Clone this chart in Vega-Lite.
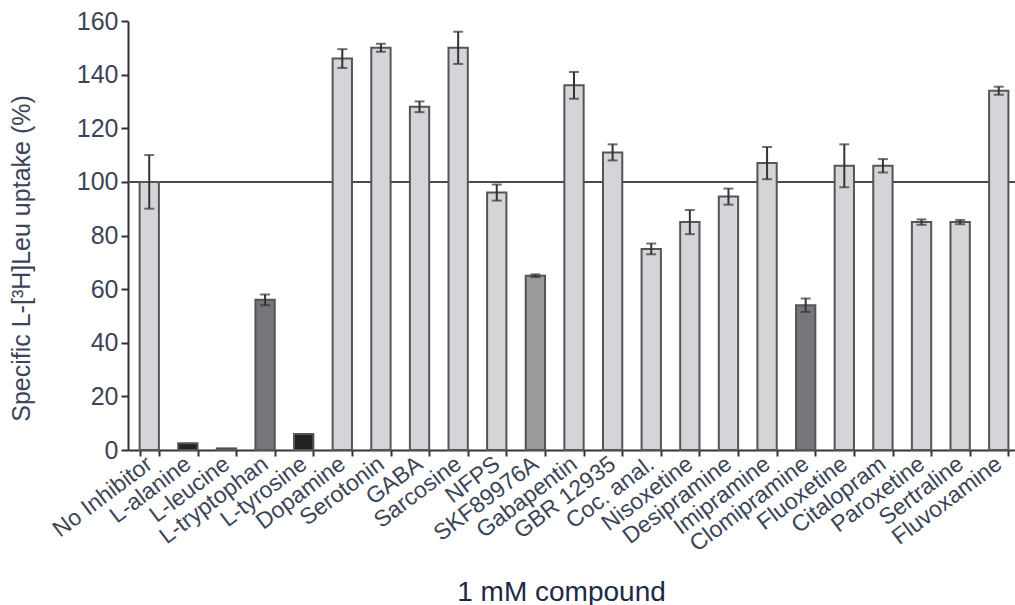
{
  "$schema": "https://vega.github.io/schema/vega-lite/v6.json",
  "autosize": "none",
  "width": 892,
  "height": 429,
  "padding": {"left": 128, "top": 21, "right": 0, "bottom": 155},
  "background": "white",
  "config": {"view": {"stroke": null}, "font": "Liberation Sans"},
  "data": {"values": [
    {"c": "No Inhibitor", "v": 100, "e": 10, "g": "light"},
    {"c": "L-alanine", "v": 2.5, "e": 0, "g": "black"},
    {"c": "L-leucine", "v": 0.6, "e": 0, "g": "black"},
    {"c": "L-tryptophan", "v": 56, "e": 2, "g": "dark"},
    {"c": "L-tyrosine", "v": 6, "e": 0, "g": "black"},
    {"c": "Dopamine", "v": 146, "e": 3.5, "g": "light"},
    {"c": "Serotonin", "v": 150, "e": 1.5, "g": "light"},
    {"c": "GABA", "v": 128, "e": 2, "g": "light"},
    {"c": "Sarcosine", "v": 150, "e": 6, "g": "light"},
    {"c": "NFPS", "v": 96, "e": 3, "g": "light"},
    {"c": "SKF89976A", "v": 65, "e": 0.5, "g": "mid"},
    {"c": "Gabapentin", "v": 136, "e": 5, "g": "light"},
    {"c": "GBR 12935", "v": 111, "e": 3, "g": "light"},
    {"c": "Coc. anal.", "v": 75, "e": 2, "g": "light"},
    {"c": "Nisoxetine", "v": 85, "e": 4.5, "g": "light"},
    {"c": "Desipramine", "v": 94.5, "e": 3, "g": "light"},
    {"c": "Imipramine", "v": 107, "e": 6, "g": "light"},
    {"c": "Clomipramine", "v": 54, "e": 2.5, "g": "dark"},
    {"c": "Fluoxetine", "v": 106, "e": 8, "g": "light"},
    {"c": "Citalopram", "v": 106, "e": 2.5, "g": "light"},
    {"c": "Paroxetine", "v": 85, "e": 1, "g": "light"},
    {"c": "Sertraline", "v": 85, "e": 0.8, "g": "light"},
    {"c": "Fluvoxamine", "v": 134, "e": 1.5, "g": "light"}
  ]},
  "encoding": {
    "x": {
      "field": "c", "type": "nominal", "sort": null,
      "scale": {"paddingInner": 0.5, "paddingOuter": 0.3},
      "axis": {
        "title": "1 mM compound", "titleFontSize": 28, "titleFontWeight": "normal",
        "titleColor": "#1e2a44", "titleX": 433, "titleY": 150, "titleBaseline": "alphabetic",
        "labelAngle": -37, "labelFontSize": 23, "labelColor": "#3b4458",
        "labelPadding": 5, "labelBaseline": "middle", "labelOverlap": false, "labelBound": false,
        "tickBand": "extent", "tickColor": "#333", "tickSize": 6, "tickWidth": 2,
        "domainColor": "#333", "domainWidth": 2, "grid": false
      }
    }
  },
  "layer": [
    {
      "mark": {"type": "rule", "color": "#4a4a4a", "strokeWidth": 2},
      "encoding": {"y": {"datum": 100, "type": "quantitative"}, "x": null}
    },
    {
      "mark": {"type": "bar", "stroke": "#555", "strokeWidth": 2},
      "encoding": {
        "y": {
          "field": "v", "type": "quantitative",
          "scale": {"domain": [0, 160]},
          "axis": {
            "title": "Specific L-[³H]Leu uptake (%)", "titleFontSize": 25,
            "titleFontWeight": "normal", "titleColor": "#3b4458", "titlePadding": 42,
            "titleY": 237,
            "values": [0, 20, 40, 60, 80, 100, 120, 140, 160],
            "labelFontSize": 25, "labelColor": "#3b4458", "labelPadding": 3,
            "tickColor": "#333", "tickSize": 7, "tickWidth": 2,
            "domainColor": "#333", "domainWidth": 2, "grid": false
          }
        },
        "fill": {
          "field": "g", "type": "nominal", "legend": null,
          "scale": {"domain": ["light", "black", "dark", "mid"], "range": ["#d4d5d8", "#222222", "#75767b", "#9a9a9c"]}
        }
      }
    },
    {
      "transform": [{"filter": "datum.e > 0"}, {"calculate": "datum.v - datum.e", "as": "lo"}, {"calculate": "datum.v + datum.e", "as": "hi"}],
      "mark": {"type": "rule", "color": "#333", "strokeWidth": 2},
      "encoding": {"y": {"field": "lo", "type": "quantitative"}, "y2": {"field": "hi"}}
    },
    {
      "transform": [{"filter": "datum.e > 0"}, {"calculate": "datum.v + datum.e", "as": "hi"}],
      "mark": {"type": "tick", "color": "#333", "thickness": 2, "size": 10},
      "encoding": {"y": {"field": "hi", "type": "quantitative"}}
    },
    {
      "transform": [{"filter": "datum.e > 0"}, {"calculate": "datum.v - datum.e", "as": "lo"}],
      "mark": {"type": "tick", "color": "#333", "thickness": 2, "size": 10},
      "encoding": {"y": {"field": "lo", "type": "quantitative"}}
    }
  ]
}
